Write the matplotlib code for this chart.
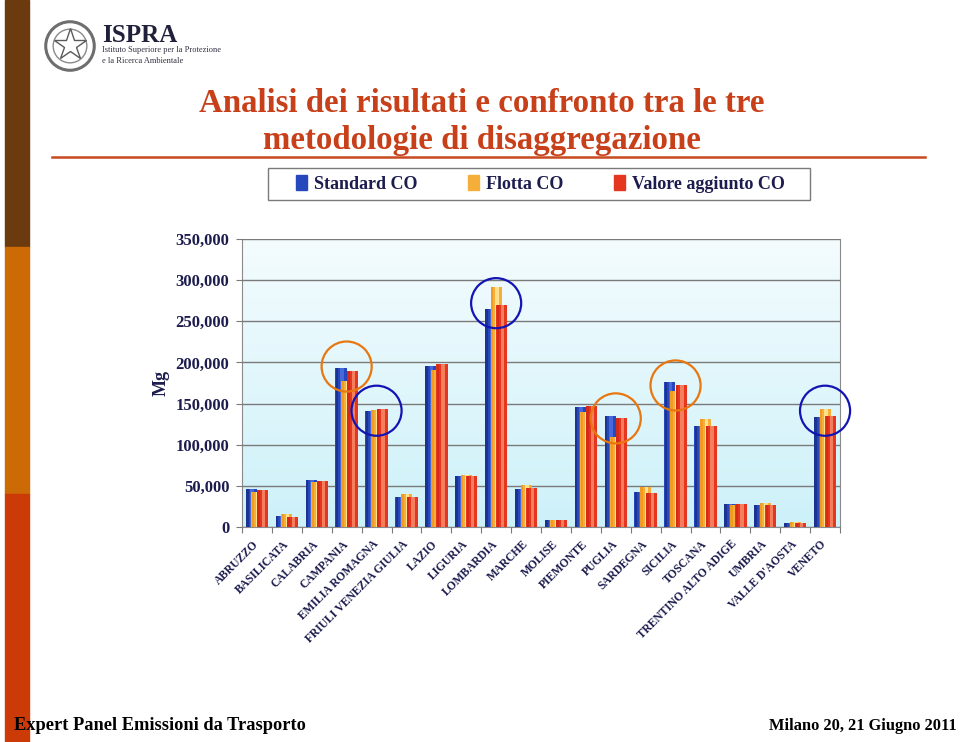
import numpy as np
import matplotlib
matplotlib.use('Agg')
from matplotlib import pyplot as plt
from matplotlib.patches import Rectangle, Circle, Patch
from matplotlib.ticker import FuncFormatter, FixedLocator
from matplotlib.colors import LinearSegmentedColormap

regioni = ['ABRUZZO', 'BASILICATA', 'CALABRIA', 'CAMPANIA', 'EMILIA ROMAGNA',
           'FRIULI VENEZIA GIULIA', 'LAZIO', 'LIGURIA', 'LOMBARDIA', 'MARCHE',
           'MOLISE', 'PIEMONTE', 'PUGLIA', 'SARDEGNA', 'SICILIA', 'TOSCANA',
           'TRENTINO ALTO ADIGE', 'UMBRIA', "VALLE D'AOSTA", 'VENETO']
standard_co = [46200, 13500, 57600, 193000, 141300, 36400, 195700, 62500, 264700, 46200,
               8600, 145500, 135200, 42000, 176100, 122900, 28200, 27000, 5300, 133200]
flotta_co = [42000, 15500, 54300, 177700, 142100, 40400, 190300, 63400, 291300, 51100,
             8600, 140100, 109900, 48200, 165800, 131100, 27300, 29000, 6100, 143400]
valore_co = [45300, 12600, 56000, 189000, 143000, 36400, 198200, 62500, 269900, 47000,
             8600, 146700, 132000, 41300, 172800, 122900, 28200, 27000, 5300, 135200]
serie = ['Standard CO', 'Flotta CO', 'Valore aggiunto CO']
yticks = [0, 50000, 100000, 150000, 200000, 250000, 300000, 350000]
# cerchi di evidenza: (regione, centro in Mg, colore)
cerchi = [('CAMPANIA', 195000, '#E8770F'), ('EMILIA ROMAGNA', 141300, '#1414B4'),
          ('LOMBARDIA', 272000, '#1414B4'), ('PUGLIA', 132000, '#E8770F'),
          ('SICILIA', 172000, '#E8770F'), ('VENETO', 141300, '#1414B4')]

W, H = 960, 742
fig = plt.figure(figsize=(W / 100, H / 100), dpi=100)
fig.patch.set_facecolor('white')
serif = 'Liberation Serif'
navy = '#1C1C4E'

# barra laterale
fig.patches.append(Rectangle((5 / W, 1 - 247 / H), 24 / W, 247 / H, transform=fig.transFigure,
                             color='#6B3A0E', zorder=0))
fig.patches.append(Rectangle((5 / W, 1 - 494 / H), 24 / W, 247 / H, transform=fig.transFigure,
                             color='#CC6A06', zorder=0))
fig.patches.append(Rectangle((5 / W, 0), 24 / W, 1 - 494 / H, transform=fig.transFigure,
                             color='#CC3A08', zorder=0))

# logo ISPRA
lax = fig.add_axes([44 / W, 1 - 72 / H, 52 / W, 52 / H])
lax.set_xlim(-1.05, 1.05)
lax.set_ylim(-1.05, 1.05)
lax.set_aspect('equal')
lax.axis('off')
lax.add_patch(Circle((0, 0), 0.98, fill=False, ec='#6E6E6E', lw=2.2))
lax.add_patch(Circle((0, 0), 0.68, fill=False, ec='#8A8A8A', lw=1.0))
lax.plot([0], [0.05], marker='*', ms=24, mfc='white', mec='#5A5A5A', mew=1.0)
fig.text(102 / W, 1 - 35 / H, 'ISPRA', family=serif, weight='bold', fontsize=18,
         color='#20203A', va='center')
fig.text(102 / W, 1 - 50 / H, 'Istituto Superiore per la Protezione', family=serif,
         fontsize=6, color='#303040', va='center')
fig.text(102 / W, 1 - 61 / H, 'e la Ricerca Ambientale', family=serif,
         fontsize=6, color='#303040', va='center')

# titolo
tcol = '#C8401A'
fig.text(0.502, 1 - 103 / H, 'Analisi dei risultati e confronto tra le tre', family=serif,
         weight='bold', fontsize=23.7, color=tcol, ha='center', va='center')
fig.text(0.502, 1 - 140 / H, 'metodologie di disaggregazione', family=serif,
         weight='bold', fontsize=23.7, color=tcol, ha='center', va='center')
fig.add_artist(plt.Line2D([52 / W, 925 / W], [1 - 157 / H, 1 - 157 / H],
                          transform=fig.transFigure, color='#C84A1E', lw=1.8))

# grafico
ax = fig.add_axes([242 / W, 1 - 527 / H, 598 / W, 288 / H])
x = np.arange(len(regioni))
grad = np.linspace(0, 1, 100).reshape(-1, 1)
bgmap = LinearSegmentedColormap.from_list('bg', ['#CDF1F9', '#F4FCFE'])
ax.imshow(grad, extent=[0, 1, 0, 1], transform=ax.transAxes, cmap=bgmap,
          origin='lower', aspect='auto', zorder=0)

w = 0.37
off = 0.19
stili = [  # base, bordo, riflesso
    ('#2747BC', '#1B3391', '#4C70E0'),
    ('#F6AE3A', '#F39A22', '#FFEB9A'),
    ('#E5371F', '#D42A18', '#F98C68'),
]
for k, vals in enumerate([standard_co, flotta_co, valore_co]):
    base, dark, hl = stili[k]
    xs = x + (k - 1) * off
    z = 3 + k
    ax.bar(xs, vals, width=w, color=base, zorder=z, linewidth=0)
    ax.bar(xs - w * 0.36, vals, width=w * 0.22, color=dark, zorder=z, linewidth=0)
    ax.bar(xs + w * 0.08, vals, width=w * 0.3, color=hl, zorder=z, linewidth=0, alpha=0.85)

for nome, yc, col in cerchi:
    ax.scatter([regioni.index(nome)], [yc], s=1300, facecolors='none', edgecolors=col,
               linewidths=1.6, zorder=10, clip_on=False)

ax.set_xlim(-0.5, len(regioni) - 0.5)
ax.set_ylim(0, 350000)
ax.set_yticks(yticks)
ax.yaxis.set_major_formatter(FuncFormatter(lambda v, p: f'{int(v):,}'))
ax.grid(axis='y', color='#7A7A7A', lw=1.0, zorder=1)
ax.set_axisbelow(False)
for s in ['left', 'right', 'top', 'bottom']:
    ax.spines[s].set_color('#8A8A8A')
ax.spines['top'].set_visible(False)
ax.tick_params(axis='y', direction='out', length=4, color='#7A7A7A', pad=5)
ax.xaxis.set_major_locator(FixedLocator(np.arange(-0.5, len(regioni), 1.0)))
ax.xaxis.set_minor_locator(FixedLocator(x))
ax.tick_params(axis='x', which='major', direction='out', length=4, color='#7A7A7A',
               labelbottom=False)
ax.tick_params(axis='x', which='minor', length=0, pad=11)
ax.set_xticklabels(regioni, minor=True, rotation=45, ha='right', va='center',
                   rotation_mode='anchor', family=serif, weight='bold', fontsize=8.3,
                   color=navy)
for t in ax.get_yticklabels():
    t.set_family(serif)
    t.set_weight('bold')
    t.set_fontsize(12)
    t.set_color(navy)
ax.set_ylabel('Mg', family=serif, weight='bold', fontsize=13, color=navy, labelpad=4)

# legenda
fig.patches.append(Rectangle((268 / W, 1 - 200 / H), 542 / W, 32 / H, transform=fig.transFigure,
                             fill=False, ec='#7A7A7A', lw=1.0))
handles = [Patch(color=stili[k][0]) for k in range(3)]
fig.legend(handles, serie, loc='center', bbox_to_anchor=(0.563, 1 - 184 / H), ncol=3,
           frameon=False, handlelength=0.6, handleheight=0.9, handletextpad=0.4,
           columnspacing=2.8, prop={'family': serif, 'weight': 'bold', 'size': 13},
           labelcolor=navy)

# piè di pagina
fig.text(14 / W, 1 - 726 / H, 'Expert Panel Emissioni da Trasporto', family=serif,
         weight='bold', fontsize=13.2, color='black', va='center')
fig.text(957 / W, 1 - 726 / H, 'Milano 20, 21 Giugno 2011', family=serif,
         weight='bold', fontsize=11.8, color='black', va='center', ha='right')

fig.savefig('out.png', dpi=100)
